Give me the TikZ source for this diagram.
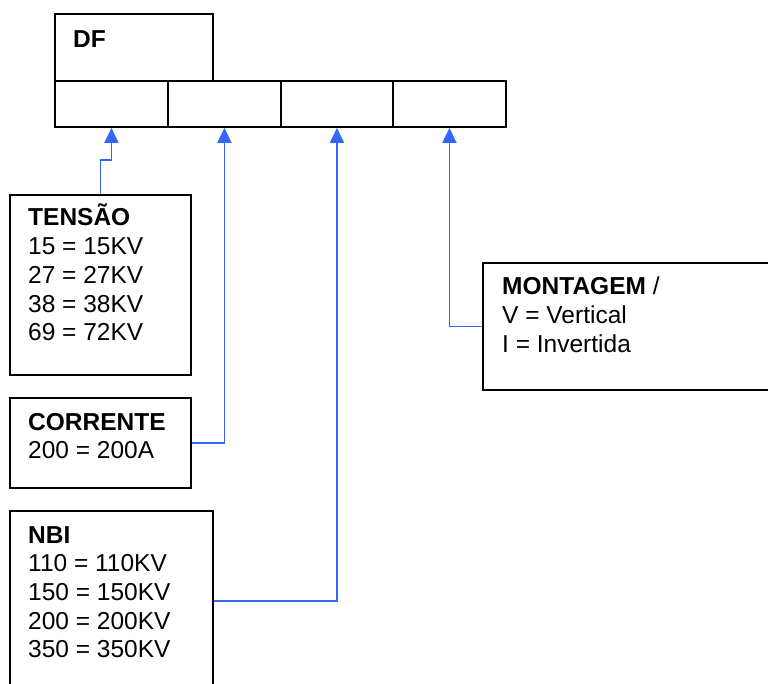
\documentclass[tikz,border=0pt]{standalone}
\usepackage{fontspec}
\setmainfont{Liberation Sans}
\usetikzlibrary{arrows.meta}
\definecolor{connblue}{RGB}{51,102,255}
\tikzset{
  box/.style={draw=black, line width=1.9pt, rectangle, inner sep=0pt, anchor=north west, fill=white},
  lbl/.style={inner sep=0pt, anchor=base west, font=\fontsize{24.5}{28.7}\selectfont},
  conn/.style={draw=connblue, line width=1.8pt, -{Triangle[length=15pt,width=14pt]}},
}
\begin{document}
\begin{tikzpicture}[x=1pt,y=-1pt]
\useasboundingbox (0,0) rectangle (768,684);
\clip (0,0) rectangle (768,684);
% DF box and cells
\node[box, minimum width=158, minimum height=67] (df) at (54,13) {};
\node[box, minimum width=113, minimum height=46] (c1) at (54,80) {};
\node[box, minimum width=113, minimum height=46] (c2) at (167,80) {};
\node[box, minimum width=112, minimum height=46] (c3) at (280,80) {};
\node[box, minimum width=113, minimum height=46] (c4) at (392,80) {};
\node[lbl] (dftxt) at (73,48) {\textbf{DF}};
% description boxes
\node[box, minimum width=181, minimum height=180] (tensao) at (9,194) {};
\node[box, minimum width=181, minimum height=90] (corrente) at (9,397) {};
\node[box, minimum width=203, minimum height=180] (nbi) at (9,510) {};
\node[box, minimum width=300, minimum height=127] (montagem) at (482,262) {};
\node[lbl] (tensaotxt) at (28,226) {\begin{tabular}[t]{@{}l@{}}\textbf{TENSÃO}\\15 = 15KV\\27 = 27KV\\38 = 38KV\\69 = 72KV\end{tabular}};
\node[lbl] (correntetxt) at (28,430) {\begin{tabular}[t]{@{}l@{}}\textbf{CORRENTE}\\200 = 200A\end{tabular}};
\node[lbl] (nbitxt) at (28,543) {\begin{tabular}[t]{@{}l@{}}\textbf{NBI}\\110 = 110KV\\150 = 150KV\\200 = 200KV\\350 = 350KV\end{tabular}};
\node[lbl] (montagemtxt) at (502,295) {\begin{tabular}[t]{@{}l@{}}\textbf{MONTAGEM} /\\V = Vertical\\I = Invertida\end{tabular}};
% connectors
\coordinate (jog) at (99,160);
\draw[conn] (tensao.north) -- (tensao.north |- jog) -| (c1.south);
\draw[conn] (corrente.east) -| (c2.south);
\draw[conn] (nbi.east) -| (c3.south);
\draw[conn] (montagem.west) -| (c4.south);
\end{tikzpicture}
\end{document}
